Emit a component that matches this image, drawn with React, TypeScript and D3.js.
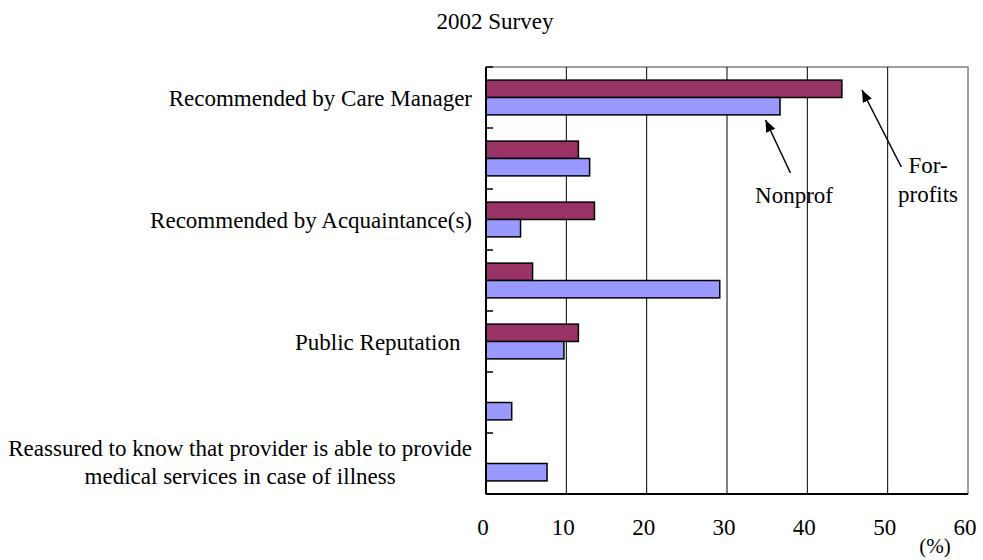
import React, { useRef, useEffect } from "react";
import * as d3 from "d3";

const title = "2002 Survey";
const categories = ["c1", "c2", "c3", "c4", "c5", "c6", "c7"];
const categoryLabels = [
  ["Recommended by Care Manager"],
  [],
  ["Recommended by Acquaintance(s)"],
  [],
  ["Public Reputation\u00A0\u00A0"],
  [],
  ["Reassured to know that provider is able to provide", "medical services in case of illness"],
];
const seriesNames = ["For-profits", "Nonprof"];
const forProfits = [44.3, 11.5, 13.5, 5.8, 11.5, 0, 0];
const nonProfits = [36.6, 12.9, 4.3, 29.1, 9.7, 3.2, 7.6];
const xTicks = [0, 10, 20, 30, 40, 50, 60];

const colors = { "For-profits": "#993366", Nonprof: "#9999FF" };
const FONT = "'Liberation Serif', 'Times New Roman', serif";

const App = () => {
  const svgRef = useRef(null);

  useEffect(() => {
    const svg = d3.select(svgRef.current);
    svg.selectAll("*").remove();

    const left = 486, right = 968, top = 67, bottom = 494;

    const x = d3.scaleLinear().domain([0, 60]).range([left, right]);
    const y = d3
      .scaleBand()
      .domain(categories)
      .range([top, bottom])
      .paddingInner(0.43)
      .paddingOuter(0.215);
    const ySub = d3.scaleBand().domain(seriesNames).range([0, y.bandwidth()]);

    const defs = svg.append("defs");
    defs
      .append("marker")
      .attr("id", "arrow")
      .attr("viewBox", "0 0 12 10")
      .attr("refX", 12)
      .attr("refY", 5)
      .attr("markerWidth", 12)
      .attr("markerHeight", 10)
      .attr("markerUnits", "userSpaceOnUse")
      .attr("orient", "auto")
      .append("path")
      .attr("d", "M0,0 L12,5 L0,10 Z")
      .attr("fill", "#000");

    // title
    svg
      .append("text")
      .attr("x", 495)
      .attr("y", 29)
      .attr("text-anchor", "middle")
      .style("font-family", FONT)
      .style("font-size", "23px")
      .text(title);

    // plot border + gridlines
    svg
      .append("rect")
      .attr("x", left)
      .attr("y", top)
      .attr("width", right - left)
      .attr("height", bottom - top)
      .attr("fill", "none")
      .attr("stroke", "#808080")
      .attr("stroke-width", 1.5);

    svg
      .selectAll(".grid")
      .data(xTicks.slice(1, -1))
      .enter()
      .append("line")
      .attr("x1", (d) => x(d))
      .attr("x2", (d) => x(d))
      .attr("y1", top)
      .attr("y2", bottom)
      .attr("stroke", "#000")
      .attr("stroke-width", 1);

    // bars
    const rows = categories.map((c, i) => ({
      cat: c,
      vals: [
        { key: "For-profits", v: forProfits[i] },
        { key: "Nonprof", v: nonProfits[i] },
      ],
    }));

    const g = svg
      .selectAll(".row")
      .data(rows)
      .enter()
      .append("g")
      .attr("transform", (d) => `translate(0,${y(d.cat)})`);

    g.selectAll("rect")
      .data((d) => d.vals.filter((b) => b.v > 0))
      .enter()
      .append("rect")
      .attr("x", x(0))
      .attr("y", (d) => ySub(d.key))
      .attr("width", (d) => x(d.v) - x(0))
      .attr("height", ySub.bandwidth())
      .attr("fill", (d) => colors[d.key])
      .attr("stroke", "#000")
      .attr("stroke-width", 1.5);

    // axes
    svg
      .append("line")
      .attr("x1", left)
      .attr("x2", left)
      .attr("y1", top)
      .attr("y2", bottom)
      .attr("stroke", "#000")
      .attr("stroke-width", 2);
    svg
      .append("line")
      .attr("x1", left)
      .attr("x2", right)
      .attr("y1", bottom)
      .attr("y2", bottom)
      .attr("stroke", "#000")
      .attr("stroke-width", 2);

    const step = y.step();
    svg
      .selectAll(".ytick")
      .data(d3.range(categories.length + 1))
      .enter()
      .append("line")
      .attr("x1", left)
      .attr("x2", left + 7)
      .attr("y1", (i) => top + i * step)
      .attr("y2", (i) => top + i * step)
      .attr("stroke", "#000")
      .attr("stroke-width", 1.5);

    // category labels
    categories.forEach((c, i) => {
      const lines = categoryLabels[i];
      if (!lines.length) return;
      const cy = top + (i + 0.5) * step;
      const t = svg
        .append("text")
        .style("font-family", FONT)
        .style("font-size", "23px")
        .style("white-space", "pre");
      if (lines.length === 1) {
        t.attr("x", 472).attr("y", cy + 8.5).attr("text-anchor", "end").text(lines[0]);
      } else {
        const spans = lines.map((l, j) =>
          t.append("tspan").attr("y", cy - 7.5 + j * 27.5).text(l)
        );
        const widths = spans.map((s) => s.node().getComputedTextLength());
        const w = d3.max(widths);
        const cx = 472 - w / 2;
        spans.forEach((s) => s.attr("x", cx).attr("text-anchor", "middle"));
      }
    });

    // x tick labels
    svg
      .selectAll(".xlab")
      .data(xTicks)
      .enter()
      .append("text")
      .attr("x", (d) => x(d) - 3)
      .attr("y", 535)
      .attr("text-anchor", "middle")
      .style("font-family", FONT)
      .style("font-size", "23px")
      .text((d) => d);

    svg
      .append("text")
      .attr("x", x(60) - 33)
      .attr("y", 553)
      .attr("text-anchor", "middle")
      .style("font-family", FONT)
      .style("font-size", "21px")
      .text("(%)");

    // annotations
    const notes = [
      { from: [37.9, 173], to: [34.8, 120], lines: ["Nonprof"], tx: 794, ty: 203 },
      { from: [51.7, 167], to: [46.8, 90], lines: ["For-", "profits"], tx: 928, ty: 173 },
    ];
    notes.forEach((n) => {
      svg
        .append("line")
        .attr("x1", x(n.from[0]))
        .attr("y1", n.from[1])
        .attr("x2", x(n.to[0]))
        .attr("y2", n.to[1])
        .attr("stroke", "#000")
        .attr("stroke-width", 1.5)
        .attr("marker-end", "url(#arrow)");
      const t = svg
        .append("text")
        .attr("text-anchor", "middle")
        .style("font-family", FONT)
        .style("font-size", "23px");
      n.lines.forEach((l, j) => {
        t.append("tspan").attr("x", n.tx).attr("y", n.ty + j * 29).text(l);
      });
    });
  }, []);

  return (
    <svg
      ref={svgRef}
      width={983}
      height={560}
      style={{ position: "absolute", left: 0, top: 0, background: "#fff" }}
    ></svg>
  );
};

export default App;
